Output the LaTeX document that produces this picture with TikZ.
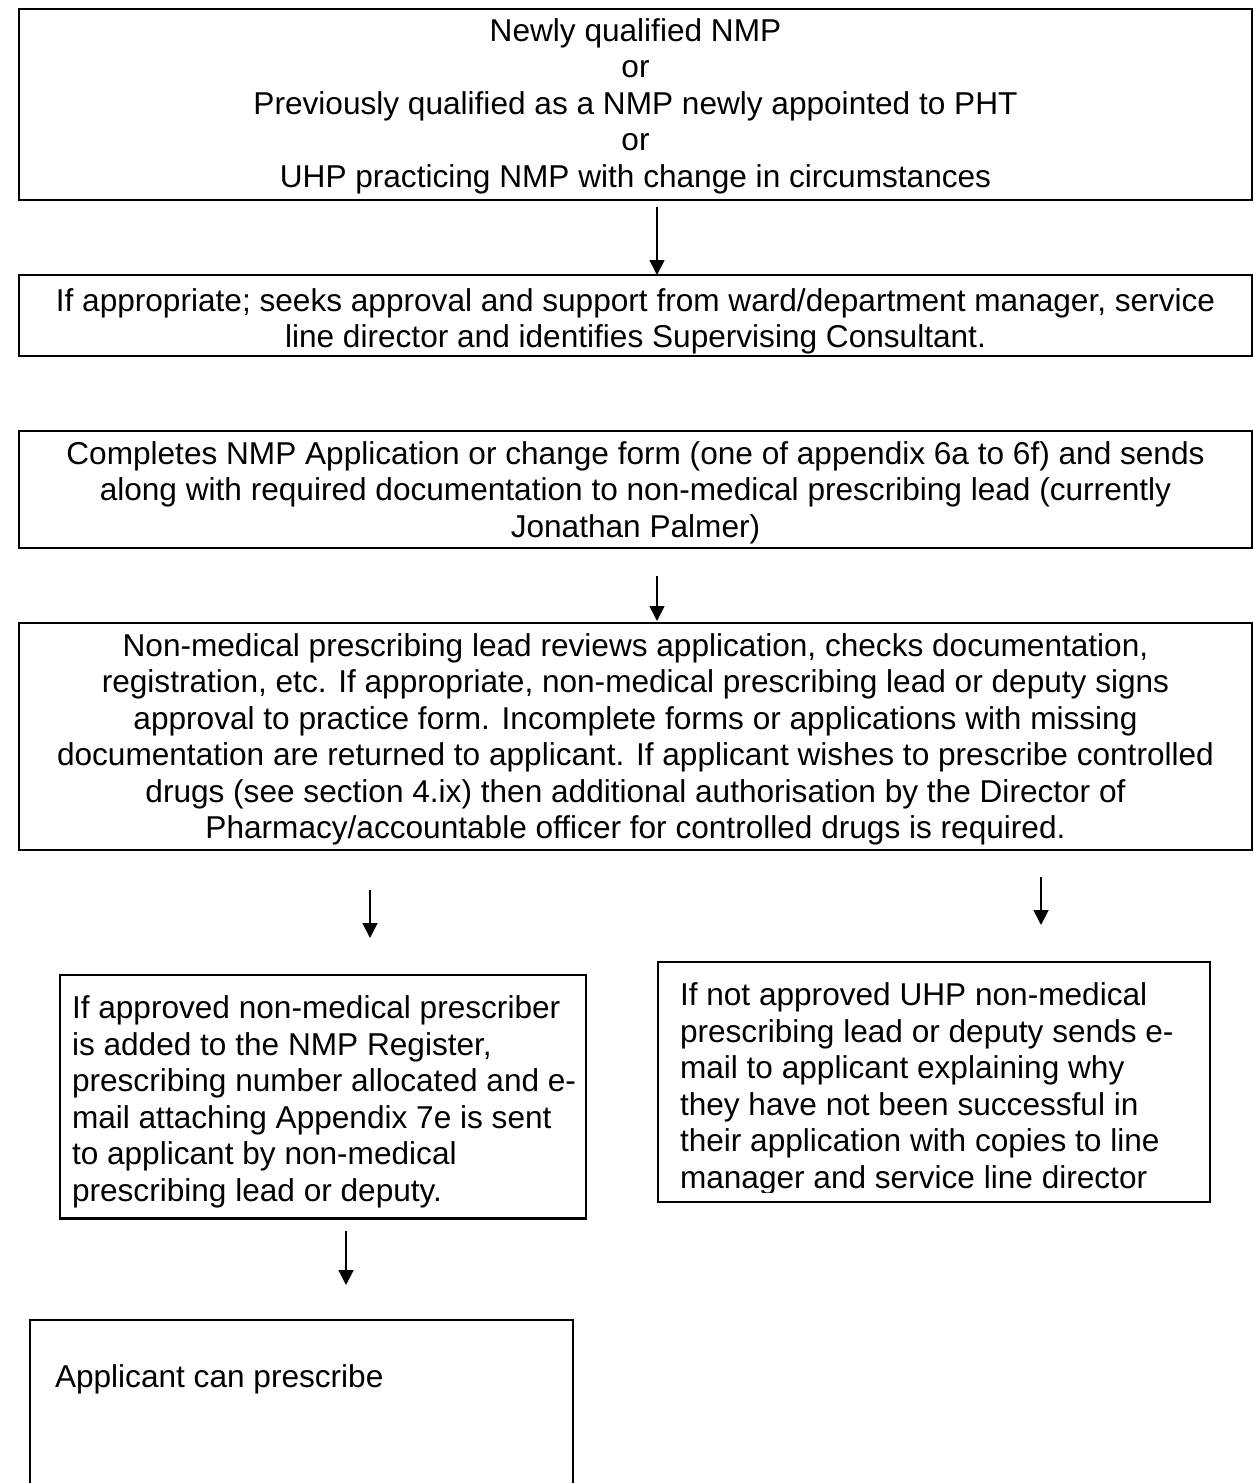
\documentclass[tikz,border=0pt]{standalone}
\usepackage{fontspec}
\setmainfont{Liberation Sans}
\usetikzlibrary{arrows.meta}
\begin{document}
\begin{tikzpicture}[x=1pt,y=-1pt,
  boxr/.style={draw=black, line width=2.4pt, inner sep=0pt, outer sep=0pt, anchor=north west},
  ln/.style={inner sep=0pt, outer sep=0pt, font=\fontsize{31.6}{36.5}\selectfont},
  cl/.style={ln, anchor=base},
  ll/.style={ln, anchor=base west},
  arr/.style={line width=1.8pt, -{Triangle[length=15pt,width=15pt]}}]
\useasboundingbox[fill=white] (0,0) rectangle (1253,1483);

% Box 1
\node[boxr, minimum width=1233pt, minimum height=191pt] (b1) at (19,9) {};
\node[cl] (t1a) at (635.5,41) {Newly qualified NMP};
\node[cl] (t1b) at (635.5,77.5) {or};
\node[cl] (t1c) at (635.5,114) {Previously qualified as a NMP newly appointed to PHT};
\node[cl] (t1d) at (635.5,150.5) {or};
\node[cl] (t1e) at (635.5,187) {UHP practicing NMP with change in circumstances};

% Box 2
\node[boxr, minimum width=1233pt, minimum height=81pt] (b2) at (19,275) {};
\node[cl] (t2a) at (635.5,311) {If appropriate; seeks approval and support from ward/department manager, service};
\node[cl] (t2b) at (635.5,347.5) {line director and identifies Supervising Consultant.};

% Box 3
\node[boxr, minimum width=1233pt, minimum height=117pt] (b3) at (19,431) {};
\node[cl] (t3a) at (635.5,464) {Completes NMP Application or change form (one of appendix 6a to 6f) and sends};
\node[cl] (t3b) at (635.5,500.5) {along with required documentation to non-medical prescribing lead (currently};
\node[cl] (t3c) at (635.5,537) {Jonathan Palmer)};

% Box 4
\node[boxr, minimum width=1233pt, minimum height=227pt] (b4) at (19,623) {};
\node[cl] (t4a) at (635.5,656) {Non-medical prescribing lead reviews application, checks documentation,};
\node[cl] (t4b) at (635.5,692.5) {registration, etc. If appropriate, non-medical prescribing lead or deputy signs};
\node[cl] (t4c) at (635.5,729) {approval to practice form. Incomplete forms or applications with missing};
\node[cl] (t4d) at (635.5,765.5) {documentation are returned to applicant. If applicant wishes to prescribe controlled};
\node[cl] (t4e) at (635.5,802) {drugs (see section 4.ix) then additional authorisation by the Director of};
\node[cl] (t4f) at (635.5,838.5) {Pharmacy/accountable officer for controlled drugs is required.};

% Box 5
\node[boxr, minimum width=526pt, minimum height=243.5pt] (b5) at (60,975) {};
\begin{scope}
\clip (60,975) rectangle (586,1207);
\node[ll] (t5a) at (72,1018.5) {If approved non-medical prescriber};
\node[ll] (t5b) at (72,1055) {is added to the NMP Register,};
\node[ll] (t5c) at (72,1091.5) {prescribing number allocated and e-};
\node[ll] (t5d) at (72,1128) {mail attaching Appendix 7e is sent};
\node[ll] (t5e) at (72,1164.5) {to applicant by non-medical};
\node[ll] (t5f) at (72,1201) {prescribing lead or deputy.};
\end{scope}

% Box 6
\node[boxr, minimum width=552pt, minimum height=240pt] (b6) at (658,962) {};
\begin{scope}
\clip (658,962) rectangle (1210,1192);
\node[ll] (t6a) at (680,1005.5) {If not approved UHP non-medical};
\node[ll] (t6b) at (680,1042) {prescribing lead or deputy sends e-};
\node[ll] (t6c) at (680,1078.5) {mail to applicant explaining why};
\node[ll] (t6d) at (680,1115) {they have not been successful in};
\node[ll] (t6e) at (680,1151.5) {their application with copies to line};
\node[ll] (t6f) at (680,1188) {manager and service line director};
\end{scope}

% Box 7
\node[boxr, minimum width=543pt, minimum height=170pt] (b7) at (30,1320) {};
\node[ll] (t7a) at (55,1387) {Applicant can prescribe};

% Arrows
\coordinate (a1s) at (657,207);
\draw[arr] (a1s) -- (a1s |- b2.north);
\coordinate (a2s) at (657,576);
\coordinate (a2e) at (657,621);
\draw[arr] (a2s) -- (a2e);
\coordinate (a3s) at (370,890);
\coordinate (a3e) at (370,938);
\draw[arr] (a3s) -- (a3e);
\coordinate (a4s) at (1041,877);
\coordinate (a4e) at (1041,925);
\draw[arr] (a4s) -- (a4e);
\coordinate (a5s) at (346,1231);
\coordinate (a5e) at (346,1285);
\draw[arr] (a5s) -- (a5e);
\end{tikzpicture}
\end{document}
